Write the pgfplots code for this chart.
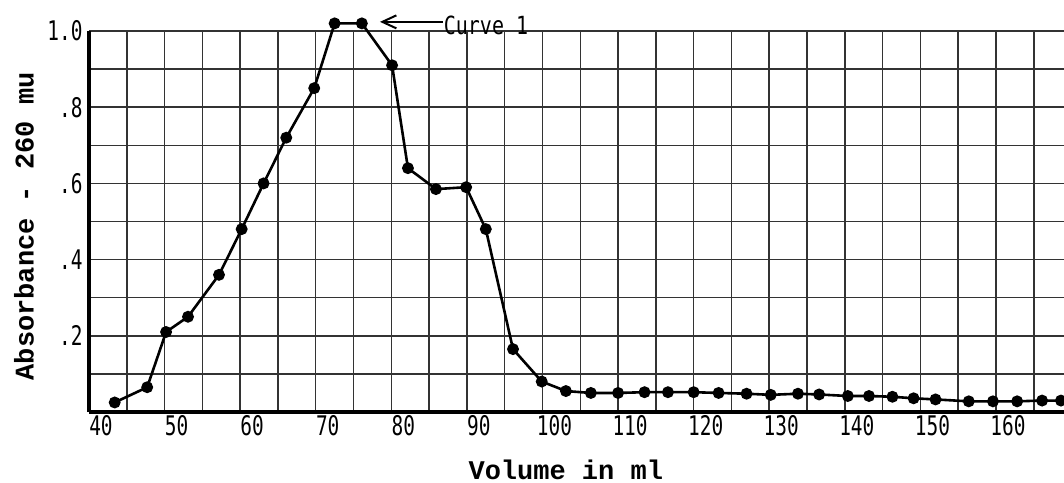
\documentclass[border=0pt]{standalone}
\usepackage{pgfplots}
\pgfplotsset{compat=1.18}
\usepackage{fontspec}
\setmainfont{Liberation Mono}
\newfontfamily\tickfont[FakeStretch=0.72]{DejaVu Sans Mono}
\newfontfamily\curvefont[FakeStretch=0.8]{DejaVu Sans Mono}
\usetikzlibrary{arrows.meta,calc}

\pgfplotstableread{
x y
43.4 0.025
47.7 0.065
50.2 0.21
53.1 0.25
57.2 0.36
60.2 0.48
63.1 0.60
66.1 0.72
69.8 0.85
72.5 1.02
76.1 1.02
80.1 0.91
82.2 0.64
85.9 0.585
89.9 0.59
92.5 0.48
96.1 0.165
99.9 0.08
103.1 0.055
106.4 0.05
110.0 0.05
113.5 0.052
116.6 0.052
120.0 0.052
123.3 0.05
127.0 0.048
130.2 0.045
133.8 0.048
136.6 0.046
140.4 0.042
143.2 0.042
146.3 0.040
149.1 0.036
152.0 0.033
156.4 0.028
159.6 0.028
162.8 0.028
166.1 0.030
168.6 0.030
}\curveone

\begin{document}
\begin{tikzpicture}
\begin{axis}[
  scale only axis,
  width=487.5bp, height=190.5bp,
  xmin=40, xmax=169, ymin=0, ymax=1,
  axis lines*=left,
  axis line style={line width=2.2bp, black},
  xtick={40,50,...,160},
  minor xtick={45,55,...,165},
  ytick={0.2,0.4,0.6,0.8,1.0},
  minor ytick={0.1,0.3,0.5,0.7,0.9},
  xticklabels={40,50,60,70,80,90,100,110,120,130,140,150,160},
  yticklabels={.2,.4,.6,.8,1.0},
  major tick length=0pt, minor tick length=0pt,
  grid=both,
  major grid style={line width=0.75bp, black!80},
  minor grid style={line width=0.75bp, black!80},
  tick label style={font=\fontsize{13.5bp}{15bp}\tickfont},
  xticklabel style={inner sep=1.5bp, xshift=6bp},
  yticklabel style={inner sep=1.5bp, xshift=-1.5bp},
  clip=false,
  xlabel={Volume in ml},
  ylabel={Absorbance - 260 mu},
  label style={font=\fontsize{13.5bp}{15bp}\selectfont\bfseries},
  xlabel style={at={(axis description cs:0.489,-0.152)}, anchor=center},
  ylabel style={at={(axis description cs:-0.0666,0.487)}, anchor=center},
]
\addplot[black, line width=1.3bp, mark=*, mark size=2.3bp, mark options={solid, fill=black}] table[x=x, y=y] {\curveone};
\draw[black, line width=1bp, {Straight Barb[length=7bp,width=6.5bp]}-] (axis cs:78.5,1.024) -- (axis cs:86.8,1.024);
\node[anchor=base west, inner sep=0pt, font=\fontsize{12.5bp}{13bp}\curvefont] at (axis cs:86.9,0.99) {Curve 1};
\end{axis}
\pgfresetboundingbox
\path ($(current axis.south west)+(-44.5bp,-35.5bp)$) rectangle ($(current axis.north east)+(0,15.5bp)$);
\end{tikzpicture}
\end{document}
